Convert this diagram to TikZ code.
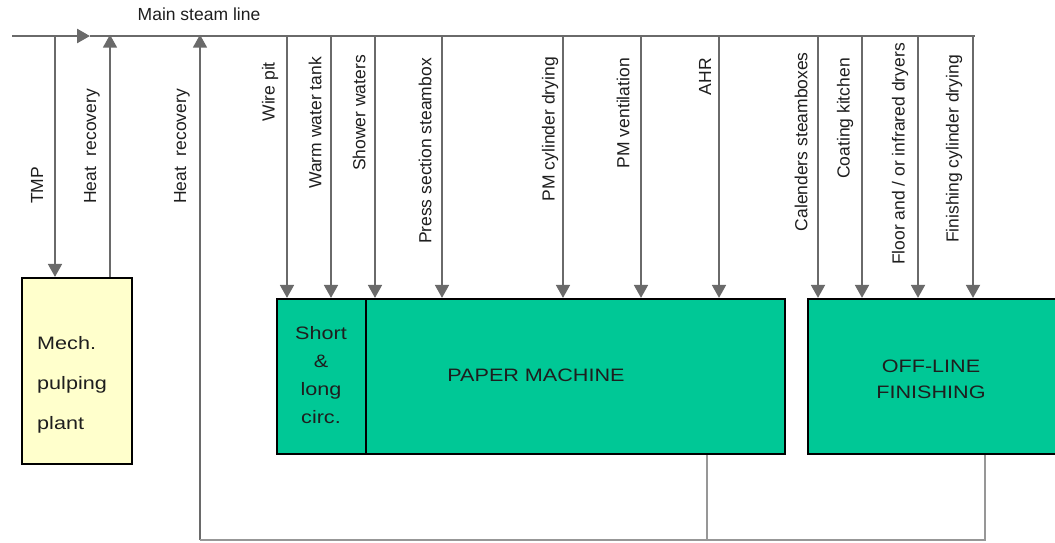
\documentclass[tikz,border=0pt]{standalone}
\usepackage{fontspec}
\setmainfont{Liberation Sans}
\usetikzlibrary{arrows.meta}
\definecolor{linegray}{HTML}{6A6A6A}
\definecolor{pmgreen}{HTML}{00C896}
\definecolor{pulpyellow}{HTML}{FFFFCC}
\definecolor{txt}{HTML}{1E1E1E}
\tikzset{
  x=1pt, y=-1pt,
  mainline/.style={draw=linegray, line width=2.6pt},
  flow/.style={draw=linegray, line width=1.8pt, -{Triangle[width=14pt,length=13pt]}, color=linegray},
  retline/.style={draw=linegray!70, line width=1.6pt},
  vlabel/.style={rotate=90, inner sep=0pt, text=txt, font=\fontsize{17.5}{20}\selectfont},
  boxtext/.style={inner sep=0pt, text=txt, font=\fontsize{18}{28}\selectfont},
  greenbox/.style={draw=black, line width=2.2pt, fill=pmgreen, inner sep=0pt},
  yellowbox/.style={draw=black, line width=2.2pt, fill=pulpyellow, inner sep=0pt},
}
\newcommand{\wide}[1]{\scalebox{1.2}[1]{#1}}
\begin{document}
\begin{tikzpicture}
\useasboundingbox (0,0) rectangle (1055,542);
% boxes
\node[yellowbox, minimum width=110pt, minimum height=186pt] (mech) at (77,371) {};
\node[greenbox, minimum width=508pt, minimum height=155pt] (pm) at (531,376.5) {};
\node[greenbox, minimum width=262pt, minimum height=155pt] (fin) at (939,376.5) {};
\coordinate (divtop) at (366,299);
\draw[line width=1.6pt] (divtop) -- (divtop |- pm.south);
% box texts
\node[boxtext, anchor=west, align=left, font=\fontsize{18}{40}\selectfont] (mechtxt) at (37,385) {\wide{Mech.}\\\wide{pulping}\\\wide{plant}};
\node[boxtext, align=center] (short) at (321,375) {\wide{Short}\\\wide{\&}\\\wide{long}\\\wide{circ.}};
\node[boxtext] (pmtxt) at (536,375) {\wide{PAPER MACHINE}};
\node[boxtext, align=center, font=\fontsize{18}{26}\selectfont] (fintxt) at (931,379) {\wide{OFF-LINE}\\\wide{FINISHING}};
% main steam line
\coordinate (ms) at (12,36);
\coordinate (marr) at (90,36);
\coordinate (me) at (975,36);
\draw[mainline, -{Triangle[width=14pt,length=13pt]}, color=linegray] (ms) -- (marr);
\draw[mainline] (marr) -- (me);
\node[inner sep=0pt, text=txt, font=\fontsize{17.5}{20}\selectfont] (mstitle) at (199,14) {Main steam line};
% TMP and heat recoveries
\coordinate (tmp) at (55,36);
\draw[flow] (tmp) -- (tmp |- mech.north);
\coordinate (hr1) at (110,36);
\draw[flow] (hr1 |- mech.north) -- ([yshift=1.3pt]hr1);
\coordinate (hr2) at (200,36);
\coordinate (hr2b) at (200,540);
\draw[flow] (hr2b) -- ([yshift=1.3pt]hr2);
\node[vlabel, anchor=west] (ltmp) at (37,204) {TMP};
\node[vlabel, anchor=west] (lhr1) at (92,204) {Heat\,\, recovery};
\node[vlabel, anchor=west] (lhr2) at (182,204) {Heat\,\, recovery};
% return line
\coordinate (pmret) at (707,540);
\coordinate (finret) at (985,540);
\draw[retline] (pm.south -| pmret) -- (pmret);
\draw[retline] (fin.south -| finret) -- (finret) -- (hr2b);
% drops to paper machine
\foreach \n/\x/\lx/\ly/\t in {
  d1/287/270/62/{Wire pit},
  d2/331/315/57/{Warm water tank},
  d3/375/359/55/{Shower waters},
  d4/442/425/58/{Press section steambox},
  d5/563/550/57/{PM cylinder drying},
  d6/641/623/58/{PM ventilation},
  d7/719/705/58/{AHR}}{
  \coordinate (\n) at (\x,36);
  \draw[flow] (\n) -- (\n |- pm.north);
  \node[vlabel, anchor=east] (l\n) at (\lx,\ly) {\t};
}
% drops to finishing
\foreach \n/\x/\lx/\ly/\t in {
  f1/818/801/52/{Calenders steamboxes},
  f2/862/845/58/{Coating kitchen},
  f3/918/900/43/{Floor and {/} or infrared dryers},
  f4/973/954/55/{Finishing cylinder drying}}{
  \coordinate (\n) at (\x,36);
  \draw[flow] (\n) -- (\n |- fin.north);
  \node[vlabel, anchor=east] (l\n) at (\lx,\ly) {\t};
}
\end{tikzpicture}
\end{document}
